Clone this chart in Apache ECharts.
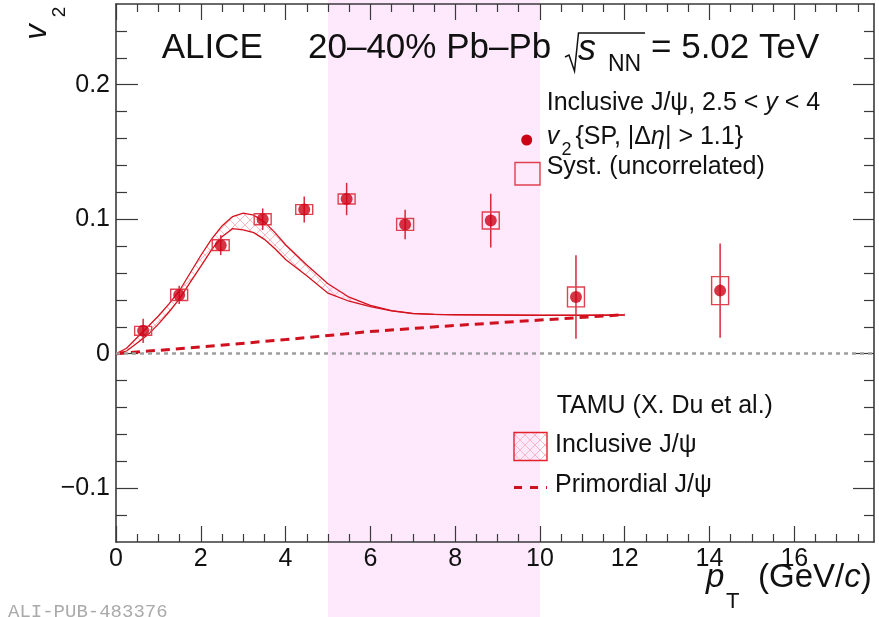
<!DOCTYPE html>
<html><head><meta charset="utf-8">
<script src="https://cdn.jsdelivr.net/npm/echarts@6/dist/echarts.min.js"></script>
<style>html,body{margin:0;padding:0;background:#fff}#c{width:879px;height:617px}</style>
</head><body><div id="c"></div>
<script>
// ---- data ----
const ptX     = [0.64, 1.49, 2.47, 3.46, 4.44, 5.44, 6.82, 8.84, 10.85, 14.25];
const v2      = [0.017, 0.0437, 0.0807, 0.100, 0.1072, 0.115, 0.0961, 0.099, 0.0422, 0.0469];
const statErr = [0.009, 0.0068, 0.0074, 0.008, 0.0096, 0.012, 0.011, 0.020, 0.031, 0.035];
const systErr = [0.0033, 0.0042, 0.004, 0.0041, 0.0036, 0.0037, 0.0044, 0.0063, 0.0074, 0.0104];
const systHalfWidth = 0.2;

const tamuX     = [0, 0.25, 0.5, 0.75, 1.0, 1.25, 1.5, 1.75, 2.0, 2.25, 2.5, 2.75, 3.0, 3.25, 3.5, 3.75, 4.0, 4.5, 5.0, 5.5, 6.0, 6.5, 7.0, 7.5, 8.0, 9.0, 10.0, 11.0, 12.0];
const tamuUpper = [0, 0.004, 0.012, 0.020, 0.028, 0.037, 0.047, 0.060, 0.073, 0.085, 0.095, 0.102, 0.1045, 0.103, 0.098, 0.090, 0.081, 0.066, 0.052, 0.042, 0.036, 0.032, 0.030, 0.0293, 0.029, 0.0288, 0.0286, 0.0286, 0.0288];
const tamuLower = [0, 0.002, 0.008, 0.014, 0.022, 0.031, 0.041, 0.053, 0.065, 0.077, 0.087, 0.093, 0.092, 0.090, 0.085, 0.078, 0.070, 0.058, 0.045, 0.039, 0.035, 0.0318, 0.0298, 0.0292, 0.0289, 0.0287, 0.0285, 0.0285, 0.0287];

const primX  = [0, 1, 2, 4, 6, 8, 10, 12];
const primV2 = [0, 0.0025, 0.005, 0.0105, 0.0165, 0.021, 0.025, 0.029];

const bandRange = [5, 10];

const xMin = 0, xMax = 17.88, yMin = -0.14, yMax = 0.26;
const xMajorTicks = [0, 2, 4, 6, 8, 10, 12, 14, 16];
const xMinorTicks = [0.5, 1, 1.5, 2.5, 3, 3.5, 4.5, 5, 5.5, 6.5, 7, 7.5, 8.5, 9, 9.5, 10.5, 11, 11.5, 12.5, 13, 13.5, 14.5, 15, 15.5, 16.5, 17, 17.5];
const yMajorTicks = [-0.1, 0, 0.1, 0.2];
const yTickLabels = ['\u22120.1', '0', '0.1', '0.2'];
const yMinorTicks = [-0.12, -0.08, -0.06, -0.04, -0.02, 0.02, 0.04, 0.06, 0.08, 0.12, 0.14, 0.16, 0.18, 0.22, 0.24];

// ---- styling ----
const FONT = 'Liberation Sans';
const TXT = '#111';
const AX = '#3a3a3a';
const RED = '#cc0014';
const BOXRED = '#e0404f';
const CURVE = '#d4121e';

const pc = document.createElement('canvas');
pc.width = 10; pc.height = 10;
const g = pc.getContext('2d');
g.strokeStyle = 'rgba(246,178,188,0.9)';
g.lineWidth = 1;
g.beginPath();
g.moveTo(0, 0); g.lineTo(10, 10);
g.moveTo(10, 0); g.lineTo(0, 10);
g.stroke();
const hatch = { image: pc, repeat: 'repeat' };

const chart = echarts.init(document.getElementById('c'), null, { renderer: 'canvas' });

function xAxisDef(pos, ticks, len, showLabel, showLine) {
  return {
    type: 'value', position: pos, min: xMin, max: xMax, gridIndex: 0,
    axisLine: { show: showLine, onZero: false, lineStyle: { color: AX, width: 1.6 } },
    axisTick: { show: true, inside: true, length: len, customValues: ticks, lineStyle: { color: AX, width: 1.2 } },
    axisLabel: { show: showLabel, customValues: ticks, margin: 5, color: TXT, fontSize: 25, fontFamily: FONT },
    splitLine: { show: false }, minorTick: { show: false }
  };
}
function yAxisDef(pos, ticks, len, showLabel, showLine) {
  return {
    type: 'value', position: pos, min: yMin, max: yMax, gridIndex: 0,
    axisLine: { show: showLine, onZero: false, lineStyle: { color: AX, width: 1.6 } },
    axisTick: { show: true, inside: true, length: len, customValues: ticks, lineStyle: { color: AX, width: 1.2 } },
    axisLabel: {
      show: showLabel, customValues: ticks, margin: 6, color: TXT, fontSize: 25, fontFamily: FONT,
      formatter: function (v) { const i = yMajorTicks.findIndex(t => Math.abs(t - v) < 1e-9); return i >= 0 ? yTickLabels[i] : ''; }
    },
    splitLine: { show: false }, minorTick: { show: false }
  };
}

function txt(x, y, text, size, opts) {
  opts = opts || {};
  return {
    type: 'text', x: x, y: y, z: 100, rotation: opts.rotation || 0, silent: true,
    style: {
      text: text, fill: opts.color || TXT, fontSize: size, fontFamily: opts.family || FONT,
      fontStyle: opts.italic ? 'italic' : 'normal',
      align: opts.align || 'left', verticalAlign: 'middle',
      rich: opts.rich
    }
  };
}
const italRich = (size) => ({ i: { fontStyle: 'italic', fontSize: size, fontFamily: FONT, fill: TXT } });

const option = {
  animation: false,
  backgroundColor: '#fff',
  grid: { left: 116, top: 4, width: 758, height: 538, outerBoundsMode: 'none', containLabel: false },
  xAxis: [
    xAxisDef('bottom', xMajorTicks, 16, true, true),
    xAxisDef('bottom', xMinorTicks, 8, false, false),
    xAxisDef('top', xMajorTicks, 16, false, true),
    xAxisDef('top', xMinorTicks, 8, false, false)
  ],
  yAxis: [
    yAxisDef('left', yMajorTicks, 22, true, true),
    yAxisDef('left', yMinorTicks, 11, false, false),
    yAxisDef('right', yMajorTicks, 21, false, true),
    yAxisDef('right', yMinorTicks, 10, false, false)
  ],
  series: [
    { // highlighted pT range
      type: 'custom', z: -10, clip: false, silent: true,
      data: [[bandRange[0], bandRange[1]]],
      renderItem: function (params, api) {
        const a = api.coord([api.value(0), 0]);
        const b = api.coord([api.value(1), 0]);
        return { type: 'rect', shape: { x: a[0], y: 0, width: b[0] - a[0], height: api.getHeight() }, style: { fill: '#fde8fc' } };
      }
    },
    { // TAMU inclusive band
      type: 'custom', z: 2, clip: true, silent: true,
      data: [[0, 0]],
      renderItem: function (params, api) {
        const up = tamuX.map((x, i) => api.coord([x, tamuUpper[i]]));
        const lo = tamuX.map((x, i) => api.coord([x, tamuLower[i]]));
        const poly = up.concat(lo.slice().reverse());
        return {
          type: 'group', children: [
            { type: 'polygon', shape: { points: poly }, style: { fill: hatch, stroke: null } },
            { type: 'polyline', shape: { points: up }, style: { fill: null, stroke: CURVE, lineWidth: 1.3 } },
            { type: 'polyline', shape: { points: lo }, style: { fill: null, stroke: CURVE, lineWidth: 1.3 } }
          ]
        };
      }
    },
    { // primordial
      type: 'line', z: 3, symbol: 'none', silent: true,
      data: primX.map((x, i) => [x, primV2[i]]),
      lineStyle: { color: '#d0101e', width: 3, type: [9, 6] },
      markLine: {
        silent: true, symbol: ['none', 'none'], label: { show: false },
        lineStyle: { color: '#9e9e9e', width: 2.5, type: [4, 4] },
        data: [{ yAxis: 0 }]
      }
    },
    { // stat error bars + syst boxes
      type: 'custom', z: 4, silent: true,
      data: ptX.map((x, i) => [x, v2[i], statErr[i], systErr[i]]),
      encode: { x: 0, y: 1 },
      renderItem: function (params, api) {
        const x = api.value(0), y = api.value(1), se = api.value(2), sy = api.value(3);
        const t = api.coord([x, y + se]), b = api.coord([x, y - se]);
        const b1 = api.coord([x - systHalfWidth, y + sy]), b2 = api.coord([x + systHalfWidth, y - sy]);
        return {
          type: 'group', children: [
            { type: 'line', shape: { x1: t[0], y1: t[1], x2: b[0], y2: b[1] }, style: { stroke: '#d42a3c', lineWidth: 1.5 } },
            { type: 'rect', shape: { x: b1[0], y: b1[1], width: b2[0] - b1[0], height: b2[1] - b1[1] }, style: { fill: null, stroke: BOXRED, lineWidth: 1.4 } }
          ]
        };
      }
    },
    { // data points
      type: 'scatter', z: 5, silent: true, symbol: 'circle', symbolSize: 12,
      itemStyle: { color: RED },
      data: ptX.map((x, i) => [x, v2[i]])
    }
  ],
  graphic: [
    // header
    txt(161.7, 48.6, 'ALICE', 35),
    txt(308, 48.6, '20\u201340% Pb\u2013Pb', 35),
    { type: 'polyline', z: 100, silent: true, shape: { points: [[565, 57], [569, 55], [574.5, 71], [578.5, 33], [645, 33]] }, style: { stroke: TXT, lineWidth: 1.5, fill: null } },
    txt(578, 49.5, 's', 36, { italic: true }),
    txt(608, 65, 'NN', 23),
    txt(651, 48.6, '= 5.02 TeV', 35),
    // legend 1
    txt(546.7, 103, 'Inclusive J/\u03c8, 2.5 < {i|y} < 4', 25, { rich: italRich(25) }),
    { type: 'circle', z: 100, silent: true, shape: { cx: 526.7, cy: 140, r: 5.5 }, style: { fill: RED } },
    txt(546.7, 137, 'v', 25, { italic: true }),
    txt(561.5, 150.5, '2', 18),
    txt(575.5, 137, '{SP, |\u0394{i|\u03b7}| > 1.1}', 25, { rich: italRich(25) }),
    { type: 'rect', z: 100, silent: true, shape: { x: 515, y: 162.5, width: 25, height: 22.5 }, style: { fill: null, stroke: BOXRED, lineWidth: 1.4 } },
    txt(546.7, 167, 'Syst. (uncorrelated)', 25),
    // legend 2
    txt(556.7, 406.3, 'TAMU (X. Du et al.)', 25),
    { type: 'rect', z: 100, silent: true, shape: { x: 514, y: 432.5, width: 33, height: 28 }, style: { fill: hatch, stroke: '#e4222e', lineWidth: 1.4 } },
    txt(555, 445.3, 'Inclusive J/\u03c8', 25),
    { type: 'line', z: 100, silent: true, shape: { x1: 514, y1: 487.5, x2: 547, y2: 487.5 }, style: { stroke: '#d0101e', lineWidth: 3, lineDash: [8, 8] } },
    txt(555, 485.3, 'Primordial J/\u03c8', 25),
    // axis titles
    txt(706, 578, 'p', 33, { italic: true }),
    txt(726, 602, 'T', 22),
    txt(758, 578, '(GeV/{i|c})', 33, { rich: italRich(33) }),
    txt(37, 32, 'v', 31, { italic: true, rotation: Math.PI / 2, align: 'center' }),
    txt(59.5, 12, '2', 19, { rotation: Math.PI / 2, align: 'center' }),
    // watermark
    txt(8, 611.5, 'ALI-PUB-483376', 19, { family: 'Liberation Mono', color: '#aaaaaa' })
  ]
};
chart.setOption(option);
</script>
</body></html>
